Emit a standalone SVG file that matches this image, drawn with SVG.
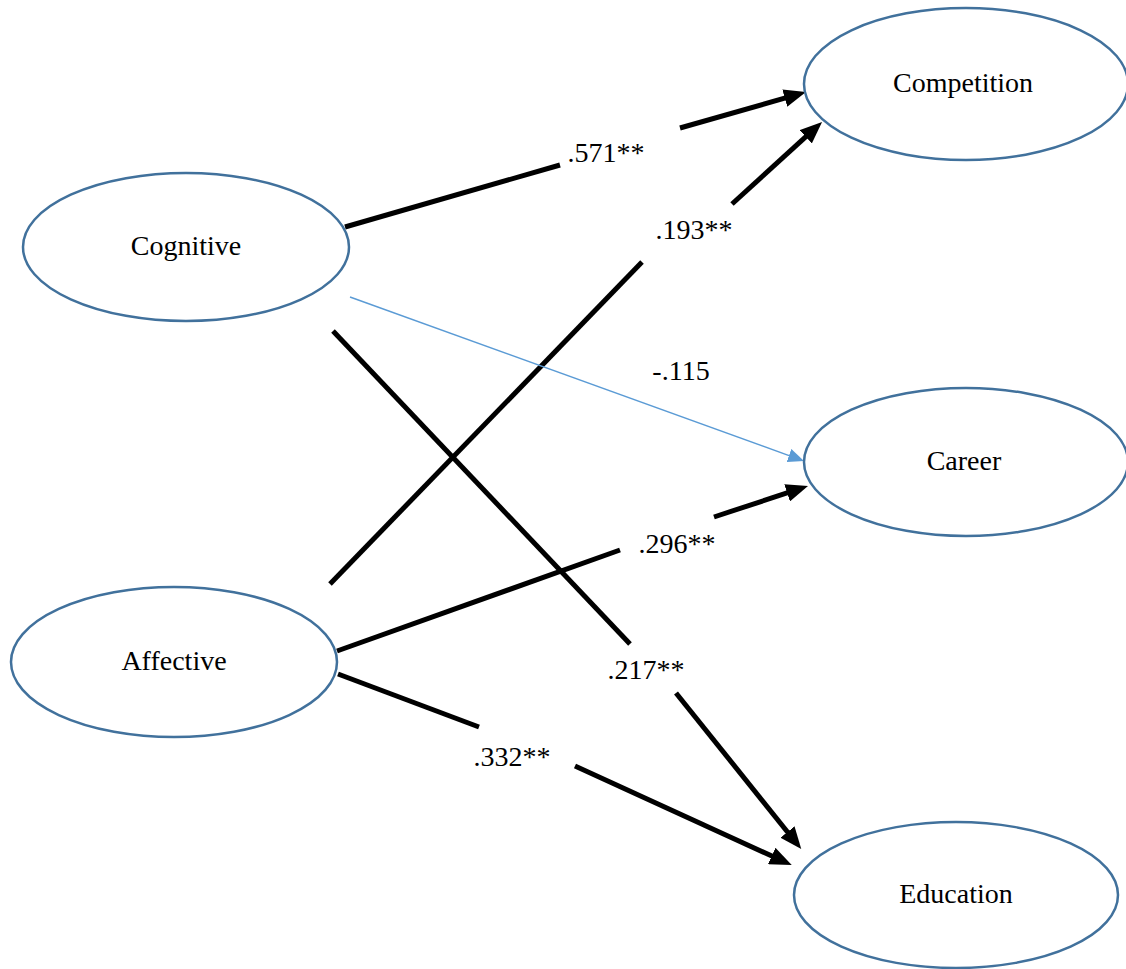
<svg xmlns="http://www.w3.org/2000/svg" width="1126" height="969" viewBox="0 0 1126 969">
<style>
.node ellipse{fill:#fff;stroke:#41719c;stroke-width:2.5}
text{font-family:"Liberation Serif","Times New Roman",serif;font-size:28px;fill:#000;text-anchor:middle}
.e{stroke:#000;stroke-width:5;fill:none}
.b{stroke:#5b9bd5;stroke-width:1.5;fill:none}
</style>
<defs>
<marker id="ah" markerUnits="userSpaceOnUse" markerWidth="24" markerHeight="18" refX="8" refY="9" orient="auto"><path d="M0,0 L22,9 L0,18 Z" fill="#000"/></marker>
<marker id="ahb" markerUnits="userSpaceOnUse" markerWidth="18" markerHeight="14" refX="6" refY="7" orient="auto"><path d="M0,0 L16,7 L0,14 Z" fill="#5b9bd5"/></marker>
</defs>
<rect width="1126" height="969" fill="#fff"/>
<g id="connectors">
<line class="e" x1="345" y1="227" x2="560" y2="165"/>
<line class="e" x1="680" y1="128" x2="792.5" y2="95.9" marker-end="url(#ah)"/>
<line class="e" x1="330" y1="584" x2="642" y2="262"/>
<line class="e" x1="732" y1="204" x2="811.7" y2="131.4" marker-end="url(#ah)"/>
<line class="b" x1="350" y1="297" x2="794.6" y2="457.6" marker-end="url(#ahb)"/>
<line class="e" x1="337" y1="651" x2="620" y2="550"/>
<line class="e" x1="714" y1="517" x2="794.7" y2="490.4" marker-end="url(#ah)"/>
<line class="e" x1="333" y1="331" x2="630" y2="644"/>
<line class="e" x1="676" y1="693" x2="792.5" y2="838.2" marker-end="url(#ah)"/>
<line class="e" x1="338" y1="674" x2="479" y2="727"/>
<line class="e" x1="575" y1="766" x2="779" y2="859.3" marker-end="url(#ah)"/>
<text x="606" y="162">.571**</text>
<text x="694" y="239">.193**</text>
<text x="681" y="380">-.115</text>
<text x="677" y="553">.296**</text>
<text x="646" y="679">.217**</text>
<text x="512" y="766">.332**</text>
</g>
<g id="cognitive" class="node"><ellipse cx="186" cy="247" rx="163" ry="74"/><text x="186" y="255">Cognitive</text></g>
<g id="affective" class="node"><ellipse cx="174" cy="662" rx="163" ry="75"/><text x="174" y="670">Affective</text></g>
<g id="competition" class="node"><ellipse cx="966" cy="84" rx="162" ry="76"/><text x="963" y="92">Competition</text></g>
<g id="career" class="node"><ellipse cx="966" cy="462" rx="162" ry="74"/><text x="964" y="470">Career</text></g>
<g id="education" class="node"><ellipse cx="956" cy="895" rx="162" ry="73"/><text x="956" y="903">Education</text></g>
</svg>
